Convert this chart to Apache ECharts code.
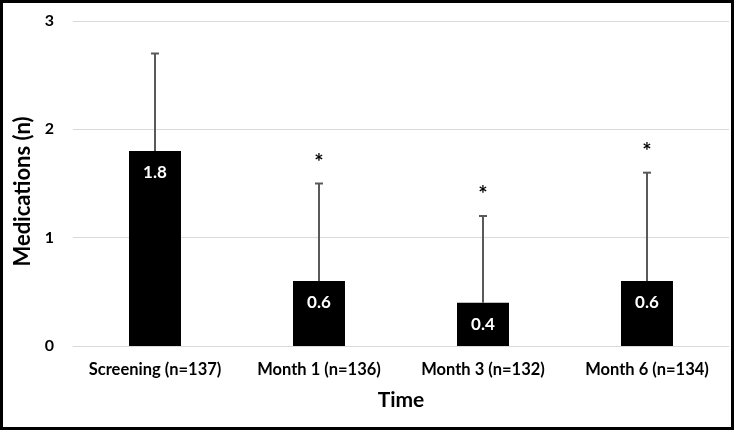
<!DOCTYPE html>
<html><head><meta charset="utf-8">
<script src="https://cdn.jsdelivr.net/npm/echarts@6/dist/echarts.min.js"></script>
<style>html,body{margin:0;padding:0;background:#fff}#c{width:735px;height:431px}</style>
</head><body><div id="c"></div>
<script>
const categories = ['Screening (n=137)', 'Month 1 (n=136)', 'Month 3 (n=132)', 'Month 6 (n=134)'];
const means = [1.8, 0.6, 0.4, 0.6];
const sds = [0.9, 0.9, 0.8, 1.0];
const significant = [false, true, true, true];
const yTicks = [0, 1, 2, 3];

const FONT = 'Lato';
const chart = echarts.init(document.getElementById('c'), null, {renderer: 'canvas'});
chart.setOption({
  animation: false,
  backgroundColor: '#fff',
  grid: {left: 73, right: 6, top: 21, bottom: 85},
  xAxis: {
    type: 'category', data: categories,
    name: 'Time', nameLocation: 'middle', nameGap: 44,
    nameTextStyle: {fontFamily: FONT, fontWeight: 'bold', fontSize: 21, color: '#000'},
    axisLine: {lineStyle: {color: '#d9d9d9', width: 1}},
    axisTick: {show: false},
    axisLabel: {fontFamily: FONT, fontWeight: 'bold', fontSize: 16.5, color: '#000', margin: 15, interval: 0}
  },
  yAxis: {
    type: 'value', min: yTicks[0], max: yTicks[yTicks.length - 1], interval: 1,
    name: 'Medications (n)', nameLocation: 'middle', nameGap: 30, nameRotate: 90,
    nameTextStyle: {fontFamily: FONT, fontWeight: 'bold', fontSize: 22, color: '#000', padding: [0, 16, 0, 0]},
    axisLine: {show: false}, axisTick: {show: false},
    axisLabel: {fontFamily: FONT, fontWeight: 'bold', fontSize: 16, color: '#000', margin: 19},
    splitLine: {lineStyle: {color: '#d9d9d9', width: 1}}
  },
  series: [
    {
      type: 'bar', data: means, barWidth: 52,
      itemStyle: {color: '#000'},
      label: {show: true, position: 'insideTop', distance: 13, color: '#fff',
        fontFamily: FONT, fontWeight: 'bold', fontSize: 17,
        formatter: p => p.value.toFixed(1)}
    },
    {
      type: 'custom', z: 10,
      data: means.map((m, i) => [i, m, m + sds[i], significant[i] ? 1 : 0]),
      renderItem: function (params, api) {
        const x = api.coord([api.value(0), api.value(1)])[0];
        const yb = api.coord([api.value(0), api.value(1)])[1];
        const yt = api.coord([api.value(0), api.value(2)])[1];
        const st = {stroke: '#595959', lineWidth: 2};
        const children = [
          {type: 'line', shape: {x1: x, y1: yb, x2: x, y2: yt}, style: st},
          {type: 'line', shape: {x1: x - 4, y1: yt, x2: x + 4, y2: yt}, style: st}
        ];
        if (api.value(3)) {
          children.push({type: 'text', style: {text: '*', x: x, y: yt - 21,
            textAlign: 'center', textVerticalAlign: 'middle',
            font: 'bold 22px ' + FONT, fill: '#000'}});
        }
        return {type: 'group', children: children};
      }
    }
  ],
  graphic: [{type: 'rect', shape: {x: 1.5, y: 1.5, width: 731, height: 427},
    style: {fill: 'none', stroke: '#000', lineWidth: 3}, z: 100}]
});
</script></body></html>
